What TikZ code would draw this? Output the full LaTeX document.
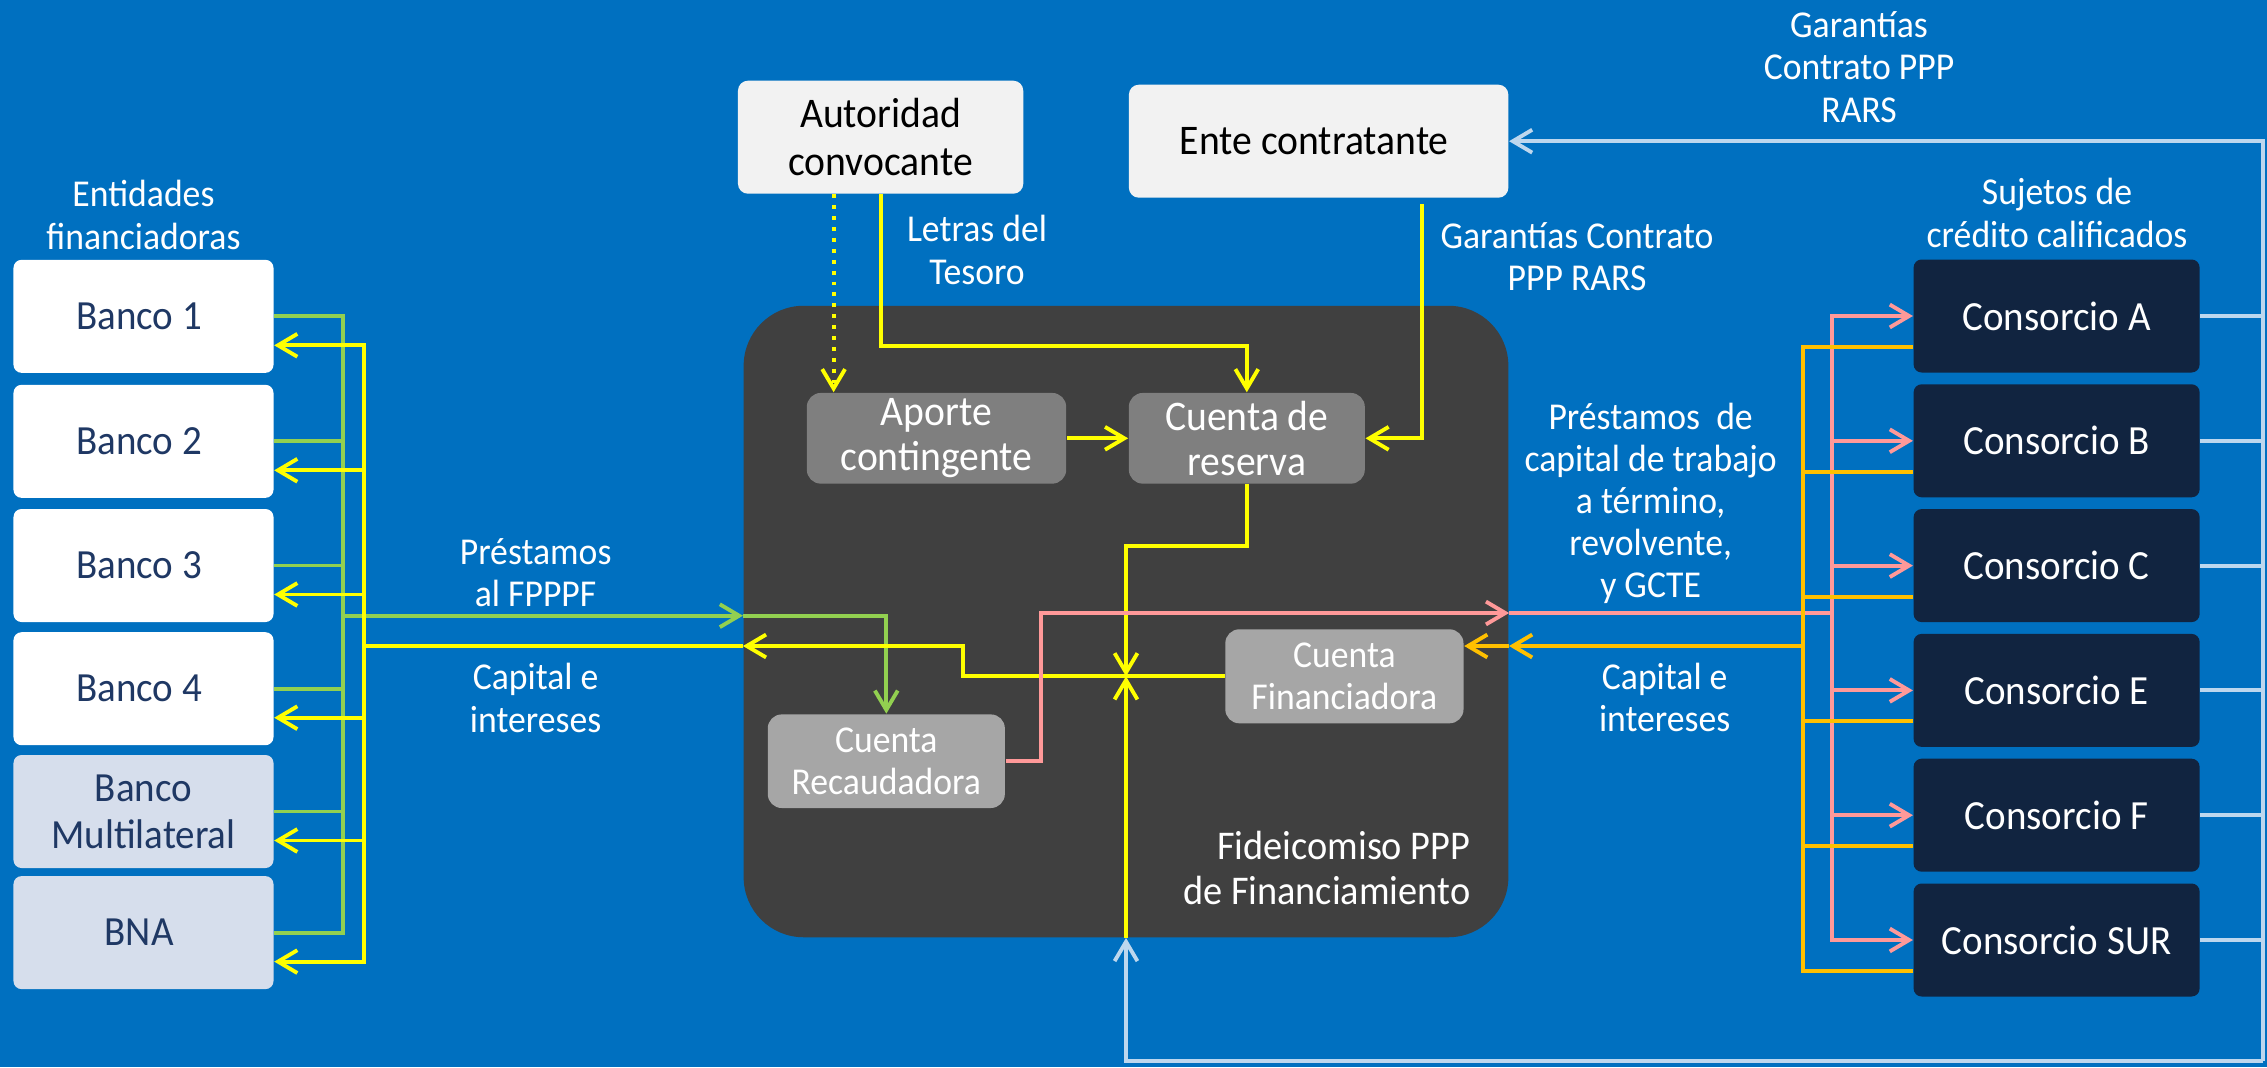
\documentclass[tikz,border=0pt]{standalone}
\usepackage{fontspec}
\setmainfont{Carlito}[FakeStretch=0.94]
\usetikzlibrary{arrows.meta}
\definecolor{fondo}{RGB}{0,112,192}
\definecolor{fidgris}{RGB}{64,64,64}
\definecolor{grisosc}{RGB}{127,127,127}
\definecolor{grisclaro}{RGB}{166,166,166}
\definecolor{blanco2}{RGB}{242,242,242}
\definecolor{bancogris}{RGB}{214,222,236}
\definecolor{azultxt}{RGB}{31,56,100}
\definecolor{marino}{RGB}{17,36,64}
\definecolor{verde}{RGB}{146,208,80}
\definecolor{amar}{RGB}{255,255,0}
\definecolor{rosado}{RGB}{255,153,153}
\definecolor{oro}{RGB}{255,192,0}
\definecolor{celes}{RGB}{189,215,238}

\begin{document}
\begin{tikzpicture}[
        >={Straight Barb[length=5.5pt,width=6.5pt]},
        banco/.style={fill=white, rounded corners=0.08cm, minimum width=2.6cm, minimum height=1.13cm, inner sep=0pt, align=center, text=azultxt, font=\fontsize{11.8}{13.4}\selectfont},
        cons/.style={fill=marino, rounded corners=0.08cm, minimum width=2.86cm, minimum height=1.13cm, inner sep=0pt, text=white, font=\fontsize{11.8}{13.4}\selectfont},
        arriba/.style={fill=blanco2, rounded corners=0.1cm, minimum height=1.13cm, inner sep=0pt, align=center, font=\fontsize{12}{13.5}\selectfont},
        cuenta/.style={rounded corners=0.14cm, inner sep=0pt, align=center, text=white},
        etiqueta/.style={text=white, align=center, inner sep=0pt, font=\fontsize{10.8}{12}\selectfont},
        verdel/.style={draw=verde, line width=1.1pt},
        amarilla/.style={draw=amar, line width=1.1pt},
        rosa/.style={draw=rosado, line width=1.1pt},
        dorada/.style={draw=oro, line width=1.1pt},
        celeste/.style={draw=celes, line width=1.1pt}
    ]
            \useasboundingbox (0, 0) rectangle (22.67, 10.67);
            \fill[fondo] (0, 0) rectangle (22.67, 10.67);

            \node[fill=fidgris, rounded corners=0.6cm, minimum width=7.647cm, minimum height=6.315cm] (fid) at (11.26, 4.455) {};
            \node[etiqueta, anchor=east, align=right, font=\fontsize{11.6}{12.8}\selectfont] (fidtxt) at (14.71, 1.994) { Fideicomiso PPP\\de Financiamiento };

            \node[banco] (b1) at (1.435, 7.507) { Banco 1 };
            \node[banco] (b2) at (1.435, 6.257) { Banco 2 };
            \node[banco] (b3) at (1.435, 5.015) { Banco 3 };
            \node[banco] (b4) at (1.435, 3.783) { Banco 4 };
            \node[banco, fill=bancogris] (bm) at (1.435, 2.555) { Banco\\Multilateral };
            \node[banco, fill=bancogris] (bna) at (1.435, 1.344) { BNA };

            \node[cons] (ca) at (20.566, 7.51) { Consorcio A };
            \node[cons] (cb) at (20.566, 6.262) { Consorcio B };
            \node[cons] (cc) at (20.566, 5.014) { Consorcio C };
            \node[cons] (ce) at (20.566, 3.766) { Consorcio E };
            \node[cons] (cf) at (20.566, 2.518) { Consorcio F };
            \node[cons] (csur) at (20.566, 1.27) { Consorcio SUR };

            \node[arriba, minimum width=2.853cm] (aut) at (8.806, 9.298) { Autoridad\\convocante };
            \node[arriba, minimum width=3.795cm] (ente) at (13.186, 9.258) { Ente contratante };

            \node[cuenta, fill=grisosc, minimum width=2.594cm, minimum height=0.907cm, font=\fontsize{12}{12.9}\selectfont] (apo) at (9.365, 6.287) { Aporte\\contingente };
            \node[cuenta, fill=grisosc, minimum width=2.36cm, minimum height=0.907cm, font=\fontsize{12}{12.9}\selectfont] (res) at (12.468, 6.287) { Cuenta de\\reserva };
            \node[cuenta, fill=grisclaro, minimum width=2.371cm, minimum height=0.936cm, font=\fontsize{10.8}{11.9}\selectfont] (rec) at (8.863, 3.058) { Cuenta\\Recaudadora };
            \node[cuenta, fill=grisclaro, minimum width=2.382cm, minimum height=0.94cm, font=\fontsize{10.8}{11.9}\selectfont] (fin) at (13.444, 3.907) { Cuenta\\Financiadora };

            \node[etiqueta] (entid) at (1.435, 8.52) { Entidades\\financiadoras };
            \node[etiqueta] (sujet) at (20.57, 8.54) { Sujetos de\\crédito calificados };
            \node[etiqueta] (garant) at (18.59, 10.0) { Garantías\\Contrato PPP\\RARS };
            \node[etiqueta] (letras) at (9.77, 8.17) { Letras del\\Tesoro };
            \node[etiqueta] (garcon) at (15.77, 8.10) { Garantías Contrato\\PPP RARS };
            \node[etiqueta] (prestizq) at (5.356, 4.945) { Préstamos\\al FPPPF };
            \node[etiqueta] (capizq) at (5.356, 3.69) { Capital e\\intereses };
            \node[etiqueta] (prestder) at (16.506, 5.635) { Préstamos\ \ de\\capital de trabajo\\a término,\\revolvente,\\y GCTE };
            \node[etiqueta] (capder) at (16.647, 3.695) { Capital e\\intereses };

            \coordinate (gbus) at (3.433, 4.513);
            \coordinate (ybus) at (3.643, 4.21);
            \coordinate (pbus) at (18.32, 4.54);
            \coordinate (obus) at (18.03, 4.21);
            \coordinate (jct) at (11.26, 3.907);
            \coordinate (lbbot) at (22.63, 0.063);

            \draw[verdel] (b1.east) -| (gbus);
            \draw[verdel] (b2.east) -| (gbus);
            \draw[verdel] (b3.east) -| (gbus);
            \draw[verdel] (b4.east) -| (gbus);
            \draw[verdel] (bm.east) -| (gbus);
            \draw[verdel] (bna.east) -| (gbus);
            \draw[verdel,->] (gbus) -- (gbus -| fid.west);
            \draw[verdel,->] (gbus -| fid.west) -| (rec.north);

            \draw[amarilla,->] (ybus) |- ([yshift=-0.29cm]b1.east);
            \draw[amarilla,->] (ybus) |- ([yshift=-0.29cm]b2.east);
            \draw[amarilla,->] (ybus) |- ([yshift=-0.29cm]b3.east);
            \draw[amarilla,->] (ybus) |- ([yshift=-0.29cm]b4.east);
            \draw[amarilla,->] (ybus) |- ([yshift=-0.29cm]bm.east);
            \draw[amarilla,->] (ybus) |- ([yshift=-0.29cm]bna.east);
            \draw[amarilla] (fid.west |- ybus) -- (ybus);
            \draw[amarilla,->] (fin.west) -| (9.63, 4.21) -- (fid.west |- ybus);

            \draw[amarilla,dotted,->] ([xshift=-0.47cm]aut.south) -- ([xshift=-0.47cm]aut.south |- apo.north);
            \draw[amarilla,->] (aut.south) |- ([yshift=0.46cm]res.north) -- (res.north);
            \draw[amarilla,->] (apo.east) -- (res.west);
            \draw[amarilla,->] ([xshift=1.03cm,yshift=-0.06cm]ente.south) |- (res.east);
            \draw[amarilla,->] (res.south) -- ++(0, -0.615) -| (jct);
            \draw[amarilla,->] (fid.south) -- (jct);

            \draw[rosa,->] (rec.east) -| (10.41, 4.54) -- (fid.east |- pbus);
            \draw[rosa] (fid.east |- pbus) -- (pbus);
            \draw[rosa,->] (pbus) |- (ca.west);
            \draw[rosa,->] (pbus) |- (cb.west);
            \draw[rosa,->] (pbus) |- (cc.west);
            \draw[rosa,->] (pbus) |- (ce.west);
            \draw[rosa,->] (pbus) |- (cf.west);
            \draw[rosa,->] (pbus) |- (csur.west);

            \draw[dorada] ([yshift=-0.31cm]ca.west) -| (obus);
            \draw[dorada] ([yshift=-0.31cm]cb.west) -| (obus);
            \draw[dorada] ([yshift=-0.31cm]cc.west) -| (obus);
            \draw[dorada] ([yshift=-0.31cm]ce.west) -| (obus);
            \draw[dorada] ([yshift=-0.31cm]cf.west) -| (obus);
            \draw[dorada] ([yshift=-0.31cm]csur.west) -| (obus);
            \draw[dorada,->] (obus) -- (fid.east |- obus);
            \draw[dorada,->] (fid.east |- obus) -- (fin.east |- obus);

            \draw[celeste] (ca.east) -- (ca.east -| lbbot);
            \draw[celeste] (cb.east) -- (cb.east -| lbbot);
            \draw[celeste] (cc.east) -- (cc.east -| lbbot);
            \draw[celeste] (ce.east) -- (ce.east -| lbbot);
            \draw[celeste] (cf.east) -- (cf.east -| lbbot);
            \draw[celeste] (csur.east) -- (csur.east -| lbbot);
            \draw[celeste,->] (lbbot) -- (ente.east -| lbbot) -- (ente.east);
            \draw[celeste,->] (lbbot) -| (fid.south);
\end{tikzpicture}
\end{document}
